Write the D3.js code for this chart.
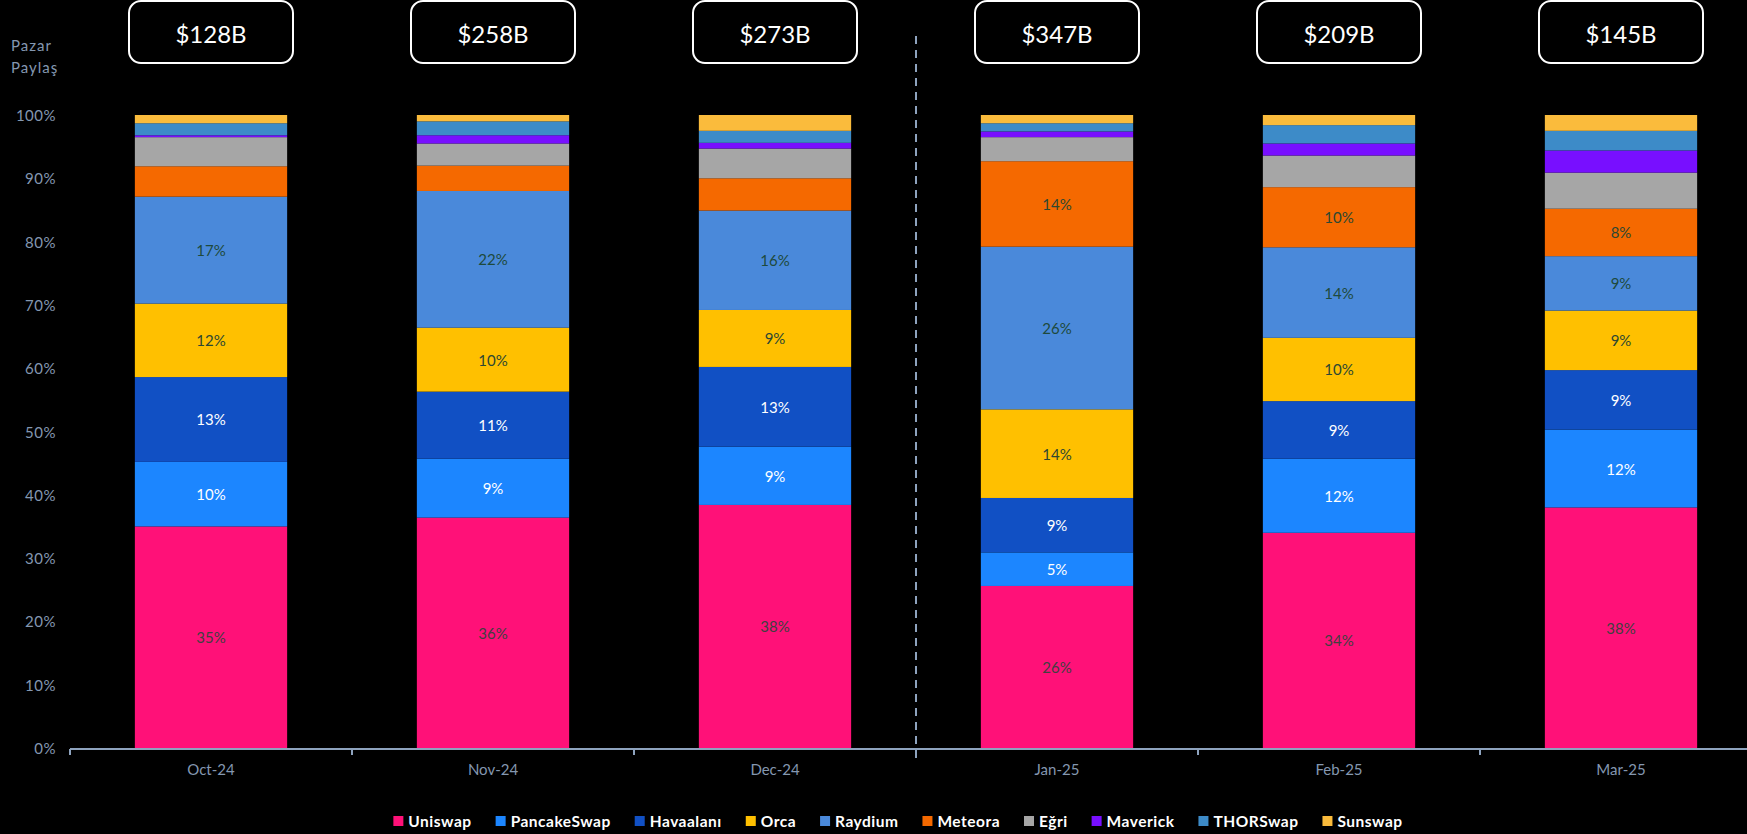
<!DOCTYPE html>
<html lang="tr">
<head>
    <meta charset="UTF-8">
    <title>Pazar Payı</title>
    <script src="https://d3js.org/d3.v7.min.js"></script>
    <style>
        body {
            margin: 0;
            padding: 0;
            background-color: #000;
            font-family: Lato, "Open Sans", sans-serif;
        }
        .tick-label {
            fill: #8497b0;
            font-size: 15px;
        }
        .seg-label {
            font-size: 15px;
            text-anchor: middle;
            dominant-baseline: central;
        }
        .legend-text {
            fill: #fff;
            font-size: 15.5px;
            font-weight: bold;
            letter-spacing: 0.5px;
            dominant-baseline: central;
        }
    </style>
</head>
<body>
    <div id="chart"></div>
    <script>
        const width = 1747;
        const height = 834;

        // verileri (%)
        const months = ["Oct-24", "Nov-24", "Dec-24", "Jan-25", "Feb-25", "Mar-25"];
        const volumes = ["$128B", "$258B", "$273B", "$347B", "$209B", "$145B"];
        const seriesNames = ["Uniswap", "PancakeSwap", "Havaalanı", "Orca", "Raydium",
                             "Meteora", "Eğri", "Maverick", "THORSwap", "Sunswap"];
        const uniswap     = [35.0, 36.4, 38.4, 25.6, 34.0, 38.0];
        const pancakeswap = [10.2,  9.3,  9.2,  5.3, 11.7, 12.3];
        const havaalani   = [13.4, 10.6, 12.6,  8.6,  9.1,  9.4];
        const orca        = [11.6, 10.1,  9.0, 14.0, 10.0,  9.4];
        const raydium     = [16.9, 21.6, 15.7, 25.7, 14.3,  8.6];
        const meteora     = [ 4.8,  4.0,  5.1, 13.5,  9.5,  7.5];
        const egri        = [ 4.6,  3.5,  4.7,  3.8,  5.0,  5.7];
        const maverick    = [ 0.3,  1.3,  0.9,  0.9,  1.9,  3.5];
        const thorswap    = [ 1.9,  2.2,  1.9,  1.3,  2.9,  3.1];
        const sunswap     = [ 1.3,  1.0,  2.5,  1.3,  1.6,  2.5];
        const yTicks = [0, 10, 20, 30, 40, 50, 60, 70, 80, 90, 100];

        const seriesValues = [uniswap, pancakeswap, havaalani, orca, raydium,
                              meteora, egri, maverick, thorswap, sunswap];
        const colors = ["#ff1178", "#1c86ff", "#1150c4", "#ffc000", "#4a89da",
                        "#f56900", "#a6a6a6", "#780fff", "#3d8bc8", "#fabb3c"];
        const labelColors = ["#404040", "#ffffff", "#ffffff", "#2c4733", "#1e4a3c",
                             "#2c4733", "#333", "#fff", "#fff", "#333"];

        const table = months.map((m, i) => {
            const row = { month: m };
            seriesNames.forEach((s, j) => row[s] = seriesValues[j][i]);
            return row;
        });

        const stacked = d3.stack().keys(seriesNames)(table);

        const svg = d3.select("#chart")
            .append("svg")
            .attr("width", width)
            .attr("height", height)
            .style("background", "#000");

        const x = d3.scaleBand()
            .domain(months)
            .range([70, 1762])
            .paddingInner(0.46)
            .paddingOuter(0.23);
        const step = x.step();
        const slotLeft = d => x(d) - x.paddingInner() * step / 2;

        const y = d3.scaleLinear()
            .domain([0, 100])
            .range([748, 115]);

        // y etiketleri
        svg.append("g")
            .selectAll("text")
            .data(yTicks)
            .join("text")
            .attr("class", "tick-label")
            .attr("x", 56)
            .attr("y", d => y(d))
            .attr("text-anchor", "end")
            .attr("dominant-baseline", "central")
            .style("letter-spacing", "0.5px")
            .text(d => d + "%");

        svg.append("text")
            .attr("class", "tick-label")
            .attr("x", 11)
            .attr("y", 45)
            .attr("dominant-baseline", "central")
            .style("letter-spacing", "1px")
            .text("Pazar");
        svg.append("text")
            .attr("class", "tick-label")
            .attr("x", 11)
            .attr("y", 67)
            .attr("dominant-baseline", "central")
            .style("letter-spacing", "1px")
            .text("Paylaş");

        // çubuklar
        const layers = svg.append("g")
            .selectAll("g")
            .data(stacked)
            .join("g")
            .attr("fill", (d, i) => colors[i]);

        layers.selectAll("rect")
            .data(d => d)
            .join("rect")
            .attr("x", d => x(d.data.month))
            .attr("width", x.bandwidth())
            .attr("y", d => y(d[1]))
            .attr("height", d => y(d[0]) - y(d[1]));

        // yüzde etiketleri
        layers.each(function(layer, i) {
            d3.select(this).selectAll("text")
                .data(layer.filter(d => i < 5 || (d[1] - d[0]) >= 7))
                .join("text")
                .attr("class", "seg-label")
                .attr("fill", labelColors[i])
                .attr("x", d => x(d.data.month) + x.bandwidth() / 2)
                .attr("y", d => (y(d[0]) + y(d[1])) / 2)
                .text(d => Math.round(d[1] - d[0]) + "%");
        });

        // x ekseni
        svg.append("line")
            .attr("x1", x.range()[0])
            .attr("x2", x.range()[1])
            .attr("y1", y(0) + 1)
            .attr("y2", y(0) + 1)
            .attr("stroke", "#8ea3be")
            .attr("stroke-width", 2);

        svg.append("g")
            .selectAll("line")
            .data(months)
            .join("line")
            .attr("x1", d => slotLeft(d))
            .attr("x2", d => slotLeft(d))
            .attr("y1", y(0) + 1)
            .attr("y2", y(0) + 7)
            .attr("stroke", "#8ea3be")
            .attr("stroke-width", 2);

        svg.append("g")
            .selectAll("text")
            .data(months)
            .join("text")
            .attr("class", "tick-label")
            .attr("x", d => x(d) + x.bandwidth() / 2)
            .attr("y", 769)
            .attr("text-anchor", "middle")
            .attr("dominant-baseline", "central")
            .text(d => d);

        // 2024 / 2025 ayırıcı
        svg.append("line")
            .attr("x1", slotLeft("Jan-25"))
            .attr("x2", slotLeft("Jan-25"))
            .attr("y1", 36)
            .attr("y2", 758)
            .attr("stroke", "#8ea3be")
            .attr("stroke-width", 2)
            .attr("stroke-dasharray", "8,6");

        // hacim kutuları
        const boxes = svg.append("g")
            .selectAll("g")
            .data(months)
            .join("g")
            .attr("transform", d => `translate(${x(d) + x.bandwidth() / 2},0)`);

        boxes.append("rect")
            .attr("x", -82)
            .attr("y", 1)
            .attr("width", 164)
            .attr("height", 62)
            .attr("rx", 12)
            .attr("fill", "#000")
            .attr("stroke", "#fff")
            .attr("stroke-width", 2);

        boxes.append("text")
            .attr("y", 33)
            .attr("text-anchor", "middle")
            .attr("dominant-baseline", "central")
            .attr("fill", "#fff")
            .style("font-size", "24px")
            .text((d, i) => volumes[i]);

        // lejant
        const legend = svg.append("g");
        let lx = 0;
        seriesNames.forEach((name, i) => {
            const item = legend.append("g").attr("transform", `translate(${lx},0)`);
            item.append("rect")
                .attr("x", 0)
                .attr("y", -5)
                .attr("width", 10)
                .attr("height", 10)
                .attr("fill", colors[i]);
            const t = item.append("text")
                .attr("class", "legend-text")
                .attr("x", 15)
                .attr("y", 0)
                .text(name);
            lx += 15 + t.node().getComputedTextLength() + 24;
        });
        const legendWidth = lx - 24;
        legend.attr("transform", `translate(${898 - legendWidth / 2},821)`);
    </script>
</body>
</html>
